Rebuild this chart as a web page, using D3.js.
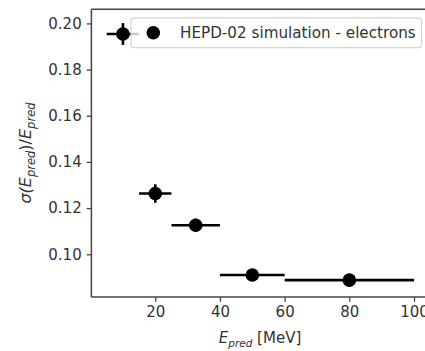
<!DOCTYPE html>
<html>
<head>
<meta charset="utf-8">
<script src="https://cdn.jsdelivr.net/npm/d3@7/dist/d3.min.js"></script>
<style>
  body { margin: 0; background: #fff; }
  text { font-family: "DejaVu Sans", sans-serif; fill: #333; }
</style>
</head>
<body>
<svg id="chart"></svg>
<script>
const width = 425;
const height = 351;

// HEPD-02 simulation - electrons
const energy = [10, 20, 32.5, 50, 80];
const energyLow = [5, 15, 25, 40, 60];
const energyHigh = [15, 25, 40, 60, 100];
const resolution = [0.1954, 0.1263, 0.1126, 0.0910, 0.0888];
const resolutionErr = [0.0047, 0.0040, 0.0028, 0.0020, 0.0015];
const xTicks = [20, 40, 60, 80, 100];
const yTicks = [0.10, 0.12, 0.14, 0.16, 0.18, 0.20];
const legendLabel = "HEPD-02 simulation - electrons";

const margin = { left: 91.4, top: 9.3, bottom: 297 };

const svg = d3.select("#chart")
  .attr("width", width)
  .attr("height", height);

const x = d3.scaleLinear()
  .domain([0.25, 104.75])
  .range([margin.left, 429.4]);

const y = d3.scaleLinear()
  .domain([0.0815, 0.2061])
  .range([margin.bottom, margin.top]);

const points = energy.map((e, i) => ({
  x: e, lo: energyLow[i], hi: energyHigh[i],
  y: resolution[i], err: resolutionErr[i]
}));

// axes
const xAxis = svg.append("g")
  .attr("transform", `translate(0,${margin.bottom})`)
  .call(d3.axisBottom(x).tickValues(xTicks).tickSize(4.7).tickPadding(5).tickFormat(d3.format("d")));

const yAxis = svg.append("g")
  .attr("transform", `translate(${margin.left},0)`)
  .call(d3.axisLeft(y).tickValues(yTicks).tickSize(4.7).tickPadding(5).tickFormat(d3.format(".2f")));

[xAxis, yAxis].forEach(a => {
  a.select(".domain").remove();
  a.selectAll(".tick line").attr("stroke", "#444").attr("stroke-width", 1.3);
  a.selectAll(".tick text")
    .style("font-size", "15px")
    .attr("fill", "#333");
});

// spines
const spine = svg.append("g").attr("stroke", "#444").attr("stroke-width", 1.5).attr("fill", "none");
spine.append("line").attr("x1", margin.left).attr("x2", margin.left).attr("y1", margin.top).attr("y2", margin.bottom);
spine.append("line").attr("x1", margin.left).attr("x2", width + 5).attr("y1", margin.bottom).attr("y2", margin.bottom);
spine.append("line").attr("x1", margin.left).attr("x2", width + 5).attr("y1", margin.top).attr("y2", margin.top);

// error bars
const bars = svg.append("g").attr("stroke", "#000").attr("stroke-width", 2.6);
bars.selectAll("line.xerr")
  .data(points)
  .join("line")
  .attr("class", "xerr")
  .attr("x1", d => x(d.lo)).attr("x2", d => x(d.hi))
  .attr("y1", d => y(d.y)).attr("y2", d => y(d.y));

bars.selectAll("line.yerr")
  .data(points)
  .join("line")
  .attr("class", "yerr")
  .attr("x1", d => x(d.x)).attr("x2", d => x(d.x))
  .attr("y1", d => y(d.y - d.err)).attr("y2", d => y(d.y + d.err));

svg.append("g")
  .selectAll("circle")
  .data(points)
  .join("circle")
  .attr("cx", d => x(d.x))
  .attr("cy", d => y(d.y))
  .attr("r", 6.8)
  .attr("fill", "#000");

// legend
const legend = svg.append("g");
legend.append("rect")
  .attr("x", 131).attr("y", 17.8)
  .attr("width", 290.5).attr("height", 29.8)
  .attr("rx", 3)
  .attr("fill", "#fff").attr("fill-opacity", 0.8)
  .attr("stroke", "#d4d4d4").attr("stroke-width", 1.2);
legend.append("circle")
  .attr("cx", 153.3).attr("cy", 32.7).attr("r", 6.8).attr("fill", "#000");
legend.append("text")
  .attr("x", 180).attr("y", 38.3)
  .style("font-size", "15.2px")
  .text(legendLabel);

// axis labels with subscripts
function subLabel(sel, parts, subSize) {
  parts.forEach(p => {
    const t = sel.append("tspan").text(p.t);
    if (p.it) t.style("font-style", "italic");
    if (p.sub) t.style("font-size", subSize).attr("dy", 3.5);
    if (p.up) t.attr("dy", -3.5);
  });
}

const xl = svg.append("text")
  .attr("x", 260).attr("y", 343)
  .attr("text-anchor", "middle")
  .style("font-size", "15px");
subLabel(xl, [
  { t: "E", it: true },
  { t: "pred", it: true, sub: true },
  { t: " [MeV]", up: true }
], "10.5px");

const yl = svg.append("text")
  .attr("transform", "translate(31,153) rotate(-90)")
  .attr("text-anchor", "middle")
  .style("font-size", "16px");
subLabel(yl, [
  { t: "σ(", it: true },
  { t: "E", it: true },
  { t: "pred", it: true, sub: true },
  { t: ")/", up: true },
  { t: "E", it: true },
  { t: "pred", it: true, sub: true }
], "11.5px");
</script>
</body>
</html>
